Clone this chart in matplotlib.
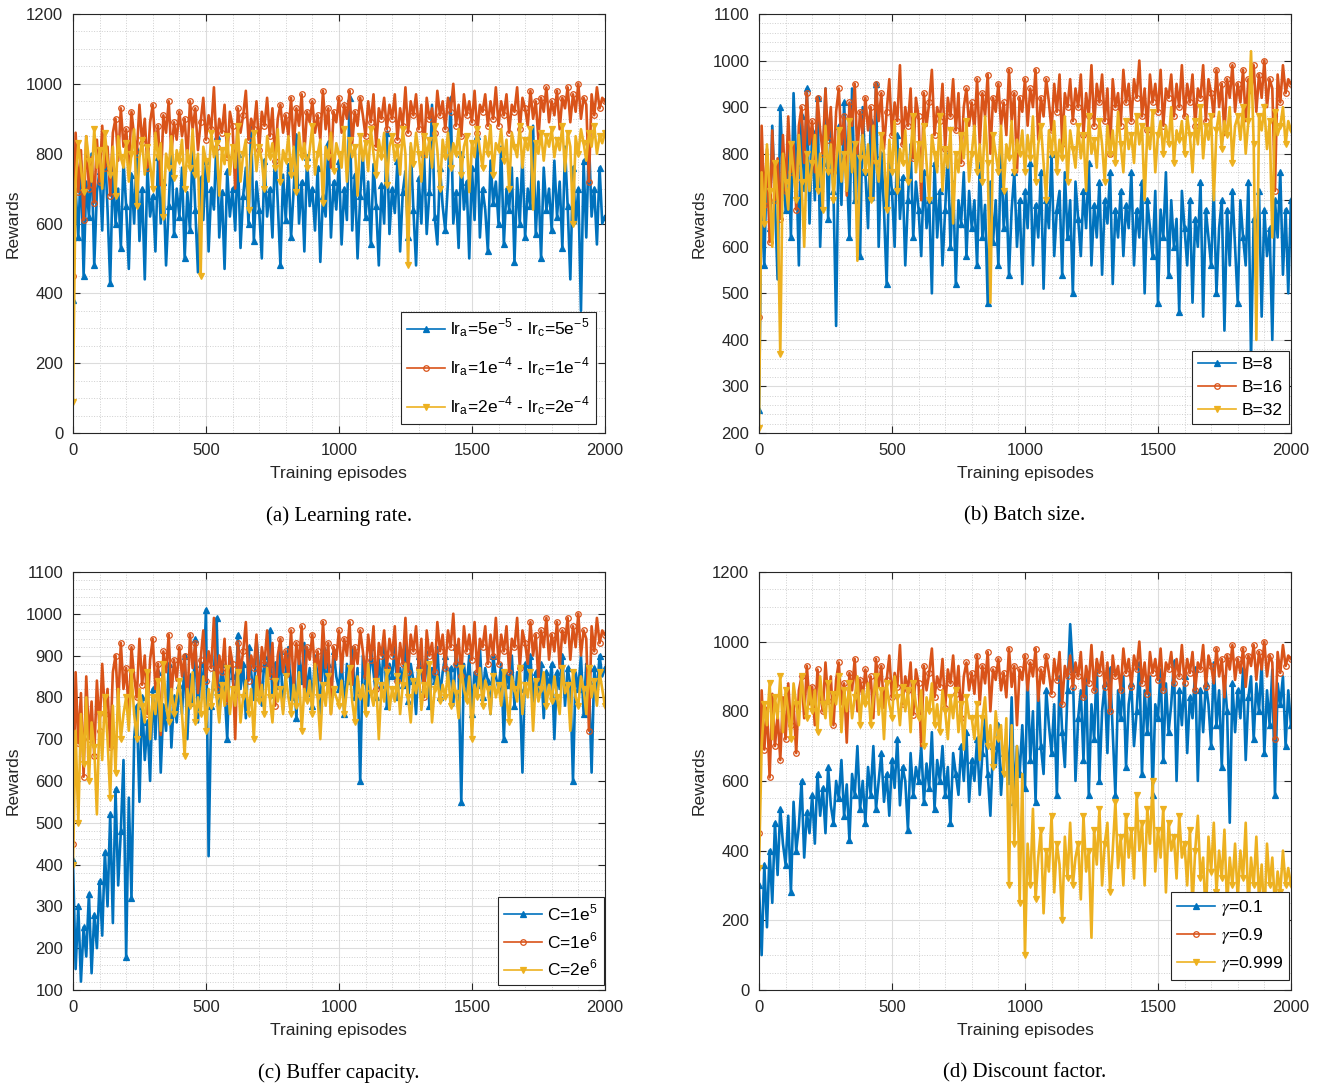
import numpy as np
import matplotlib
matplotlib.use("Agg")
import matplotlib.pyplot as plt
from matplotlib.ticker import MultipleLocator

plt.rcParams['font.family'] = ['Liberation Sans', 'DejaVu Sans']
plt.rcParams['mathtext.fontset'] = 'stix'

# rewards sampled every 10 episodes (0..2000), read off the figure
# reference run (lr=1e-4, B=16, C=1e6, gamma=0.9) - same curve in every panel
ref_rewards = [
    450, 860, 690, 810, 610, 850, 700, 790, 660, 840, 720, 880, 760, 820, 680, 860, 900, 780, 930, 820,
    870, 760, 920, 850, 800, 940, 830, 900, 760, 890, 940, 820, 880, 710, 910, 860, 950, 800, 890, 840,
    920, 850, 900, 780, 950, 870, 930, 810, 890, 960, 840, 910, 870, 990, 820, 900, 860, 940, 790, 920,
    880, 700, 930, 860, 910, 980, 840, 900, 870, 950, 810, 920, 880, 960, 850, 930, 780, 900, 940, 860,
    910, 850, 960, 820, 930, 880, 970, 800, 920, 890, 950, 860, 910, 840, 980, 870, 930, 760, 920, 890,
    960, 860, 940, 900, 980, 830, 920, 880, 960, 910, 850, 950, 890, 970, 820, 930, 900, 960, 870, 940,
    900, 970, 840, 930, 880, 990, 860, 950, 910, 970, 870, 940, 800, 960, 900, 930, 860, 980, 910, 950,
    870, 960, 920, 1000, 880, 940, 850, 970, 910, 950, 890, 980, 860, 940, 920, 970, 880, 950, 900, 990,
    880, 950, 910, 970, 860, 940, 920, 990, 870, 960, 930, 880, 980, 900, 950, 840, 960, 920, 990, 890,
    950, 910, 980, 870, 960, 930, 990, 890, 970, 920, 1000, 900, 960, 940, 720, 970, 910, 990, 930, 960,
    950]

# (a) learning rate
lr_low = [
    380, 700, 560, 780, 450, 720, 620, 800, 480, 690, 750, 580, 820, 640, 430, 760, 600, 700, 530, 780,
    650, 470, 740, 600, 810, 550, 700, 440, 760, 620, 680, 520, 790, 600, 720, 480, 650, 830, 570, 700,
    620, 760, 500, 690, 580, 820, 640, 460, 730, 610, 780, 520, 700, 640, 850, 560, 690, 470, 750, 620,
    700, 580, 800, 530, 680, 760, 600, 880, 550, 720, 640, 500, 780, 620, 700, 560, 820, 660, 480, 740,
    610, 770, 560, 700, 850, 600, 720, 520, 790, 650, 700, 580, 760, 490, 680, 620, 830, 560, 720, 640,
    780, 540, 700, 610, 960, 580, 740, 500, 680, 800, 620, 720, 540, 770, 650, 480, 710, 600, 860, 570,
    700, 630, 780, 520, 690, 750, 560, 820, 640, 480, 730, 600, 800, 570, 690, 940, 620, 540, 760, 650,
    580, 720, 960, 600, 690, 530, 800, 640, 720, 500, 760, 610, 850, 560, 700, 640, 520, 780, 660, 720,
    600, 820, 540, 700, 640, 760, 490, 730, 600, 800, 560, 700, 650, 880, 570, 720, 500, 760, 640, 700,
    580, 780, 620, 720, 530, 820, 650, 440, 760, 600, 700, 350, 780, 560, 840, 620, 700, 540, 760, 600,
    620]
lr_high = [
    90, 720, 830, 760, 690, 850, 780, 720, 870, 760, 810, 700, 860, 780, 740, 820, 680, 850, 790, 760,
    830, 720, 800, 870, 650, 790, 840, 740, 820, 770, 700, 860, 790, 830, 620, 800, 760, 850, 730, 810,
    780, 840, 700, 810, 760, 870, 740, 800, 450, 820, 780, 720, 860, 790, 830, 680, 810, 770, 850, 740,
    820, 760, 880, 720, 800, 840, 640, 790, 860, 750, 820, 780, 700, 850, 790, 830, 760, 870, 720, 810,
    780, 850, 740, 820, 690, 860, 790, 830, 760, 810, 880, 740, 800, 840, 660, 820, 790, 860, 750, 830,
    800, 760, 870, 720, 840, 790, 820, 680, 850, 780, 830, 750, 870, 800, 740, 840, 790, 860, 710, 820,
    850, 780, 820, 740, 870, 800, 480, 830, 770, 860, 800, 720, 850, 790, 840, 760, 880, 810, 700, 840,
    790, 860, 760, 830, 800, 870, 740, 820, 850, 690, 830, 790, 870, 810, 760, 850, 800, 880, 740, 830,
    810, 870, 780, 840, 700, 860, 820, 790, 880, 760, 840, 810, 870, 640, 830, 800, 860, 780, 850, 820,
    870, 790, 840, 810, 880, 750, 860, 820, 600, 850, 800, 870, 830, 780, 860, 820, 880, 800, 850, 830,
    860]

# (b) batch size
batch_8 = [
    250, 720, 560, 800, 640, 860, 700, 530, 900, 760, 680, 840, 620, 930, 780, 560, 880, 720, 940, 650,
    850, 700, 920, 600, 780, 940, 660, 880, 720, 430, 860, 690, 910, 770, 620, 940, 700, 850, 580, 900,
    760, 640, 870, 700, 950, 600, 800, 680, 520, 780, 720, 600, 840, 660, 750, 560, 700, 820, 620, 740,
    680, 580, 760, 640, 700, 500, 780, 620, 720, 560, 680, 800, 600, 740, 520, 700, 650, 760, 580, 720,
    640, 700, 560, 780, 620, 690, 480, 740, 610, 700, 560, 820, 640, 720, 540, 680, 760, 600, 700, 520,
    720, 640, 780, 560, 690, 620, 760, 510, 700, 640, 800, 580, 680, 720, 540, 760, 620, 700, 500, 740,
    660, 580, 720, 640, 780, 560, 690, 620, 740, 540, 700, 650, 760, 520, 680, 620, 720, 580, 690, 640,
    760, 560, 680, 620, 740, 500, 700, 640, 580, 720, 480, 680, 620, 760, 540, 700, 600, 660, 460, 720,
    640, 560, 700, 480, 660, 600, 740, 450, 680, 620, 560, 720, 500, 640, 700, 420, 680, 560, 720, 600,
    480, 700, 620, 560, 740, 360, 660, 600, 720, 450, 680, 580, 640, 400, 700, 620, 760, 540, 680, 500,
    700]
batch_32 = [
    210, 760, 650, 820, 720, 600, 780, 700, 370, 800, 740, 680, 820, 760, 700, 840, 740, 600, 800, 720,
    780, 840, 720, 800, 680, 860, 760, 820, 700, 780, 850, 740, 800, 720, 870, 760, 820, 570, 790, 840,
    760, 820, 700, 860, 780, 740, 840, 800, 680, 830, 760, 870, 720, 810, 780, 850, 740, 800, 880, 760,
    820, 740, 860, 780, 700, 840, 800, 760, 880, 720, 810, 770, 850, 650, 800, 760, 840, 790, 870, 740,
    800, 860, 760, 820, 740, 880, 780, 480, 840, 800, 760, 860, 720, 820, 790, 870, 760, 830, 800, 850,
    760, 840, 790, 880, 740, 820, 860, 780, 700, 850, 800, 870, 760, 830, 790, 880, 740, 850, 810, 770,
    860, 790, 840, 720, 880, 800, 830, 770, 870, 820, 740, 860, 800, 850, 780, 890, 820, 760, 870, 810,
    840, 780, 880, 820, 860, 700, 850, 810, 890, 760, 840, 870, 800, 860, 820, 900, 780, 850, 830, 870,
    800, 880, 840, 760, 870, 820, 900, 790, 860, 830, 880, 700, 850, 890, 810, 870, 840, 900, 780, 860,
    880, 830, 900, 800, 870, 1020, 820, 400, 880, 850, 900, 810, 870, 620, 890, 840, 860, 900, 820, 870,
    850]

# (c) buffer capacity
cap_1e5 = [
    410, 150, 300, 120, 250, 180, 330, 140, 280, 200, 360, 230, 430, 300, 520, 260, 580, 350, 480, 650,
    180, 560, 320, 700, 780, 550, 800, 650, 740, 600, 820, 700, 860, 620, 780, 720, 880, 680, 800, 740,
    830, 760, 900, 700, 850, 780, 940, 740, 880, 800, 1010, 420, 780, 860, 990, 750, 880, 820, 700, 900,
    850, 780, 950, 820, 880, 750, 920, 860, 800, 940, 870, 780, 900, 840, 960, 800, 880, 820, 910, 770,
    860, 920, 800, 880, 750, 900, 840, 930, 810, 870, 780, 900, 850, 760, 920, 830, 880, 800, 910, 850,
    820, 900, 760, 880, 840, 920, 800, 870, 600, 900, 840, 780, 920, 860, 800, 890, 830, 940, 780, 880,
    850, 920, 800, 870, 830, 950, 790, 880, 840, 760, 900, 860, 820, 910, 780, 870, 840, 920, 800, 860,
    900, 830, 870, 780, 920, 850, 550, 880, 820, 900, 760, 860, 830, 920, 800, 870, 840, 760, 900, 850,
    820, 880, 700, 860, 830, 900, 780, 860, 820, 620, 880, 840, 900, 790, 860, 810, 880, 750, 860, 820,
    880, 700, 860, 820, 900, 780, 870, 830, 600, 860, 820, 900, 760, 880, 840, 620, 870, 810, 900, 850,
    870]
cap_2e6 = [
    400, 720, 500, 760, 640, 800, 600, 740, 680, 520, 760, 650, 800, 700, 560, 780, 620, 820, 700, 760,
    800, 720, 860, 760, 700, 820, 780, 740, 860, 700, 800, 760, 840, 720, 880, 780, 740, 820, 760, 800,
    840, 760, 660, 820, 780, 860, 740, 800, 760, 850, 720, 820, 780, 860, 800, 740, 830, 780, 870, 760,
    820, 780, 860, 740, 800, 840, 760, 820, 700, 850, 790, 830, 760, 870, 800, 740, 840, 790, 820, 760,
    850, 800, 760, 830, 780, 860, 720, 820, 790, 840, 760, 880, 800, 700, 830, 780, 850, 760, 820, 800,
    780, 840, 760, 820, 870, 790, 740, 850, 800, 830, 760, 880, 810, 780, 840, 700, 830, 790, 860, 770,
    820, 790, 850, 760, 830, 880, 800, 740, 840, 810, 860, 770, 830, 800, 880, 740, 820, 850, 790, 830,
    800, 860, 780, 840, 810, 750, 870, 820, 790, 850, 700, 830, 800, 870, 780, 840, 820, 760, 850, 800,
    830, 780, 860, 800, 740, 850, 820, 790, 870, 760, 830, 800, 860, 720, 840, 790, 820, 860, 780, 830,
    790, 850, 800, 760, 870, 810, 830, 720, 860, 800, 780, 850, 820, 760, 870, 800, 840, 780, 860, 820,
    780]

# (d) discount factor
gamma_01 = [
    300, 100, 360, 180, 400, 250, 480, 330, 520, 420, 360, 500, 280, 540, 400, 470, 600, 380, 510, 450,
    560, 420, 620, 500, 580, 450, 640, 530, 480, 600, 550, 660, 500, 590, 430, 620, 560, 700, 520, 600,
    480, 640, 560, 700, 520, 600, 680, 540, 620, 500, 660, 580, 720, 530, 640, 600, 460, 680, 560, 640,
    600, 700, 540, 650, 580, 740, 520, 660, 600, 700, 560, 640, 480, 680, 620, 560, 700, 600, 740, 540,
    660, 600, 720, 560, 680, 780, 620, 500, 700, 640, 760, 560, 680, 720, 600, 840, 540, 700, 620, 760,
    580, 900, 660, 800, 540, 880, 700, 620, 860, 760, 680, 820, 560, 900, 740, 640, 860, 1050, 920, 600,
    780, 860, 660, 900, 560, 820, 720, 940, 600, 800, 880, 680, 920, 740, 560, 860, 780, 900, 640, 820,
    880, 700, 800, 940, 620, 860, 740, 900, 560, 820, 780, 920, 660, 880, 740, 820, 940, 600, 860, 760,
    900, 680, 840, 780, 920, 600, 860, 740, 880, 820, 700, 940, 760, 860, 640, 900, 800, 480, 880, 740,
    860, 780, 920, 660, 840, 900, 720, 880, 800, 940, 680, 860, 760, 920, 560, 880, 820, 900, 700, 860,
    760]
gamma_0999 = [
    350, 700, 820, 760, 880, 720, 840, 780, 900, 740, 860, 800, 720, 880, 820, 760, 900, 830, 780, 870,
    800, 860, 740, 900, 820, 780, 880, 760, 850, 820, 900, 740, 860, 800, 880, 780, 840, 900, 760, 860,
    820, 880, 760, 840, 900, 790, 860, 720, 880, 820, 780, 900, 840, 760, 870, 800, 860, 740, 880, 820,
    780, 860, 700, 840, 800, 880, 760, 820, 740, 860, 800, 720, 840, 780, 860, 740, 820, 690, 840, 780,
    780, 720, 820, 660, 780, 840, 700, 760, 640, 800, 720, 760, 620, 780, 300, 760, 420, 700, 250, 620,
    100, 420, 300, 520, 260, 380, 460, 220, 400, 340, 500, 280, 420, 360, 200, 440, 320, 480, 300, 380,
    420, 260, 500, 340, 400, 150, 460, 360, 520, 300, 420, 480, 280, 400, 540, 350, 440, 300, 500, 380,
    460, 320, 560, 400, 480, 300, 520, 420, 600, 340, 460, 380, 520, 280, 480, 400, 440, 320, 500, 380,
    420, 300, 460, 240, 400, 500, 320, 380, 200, 440, 340, 480, 280, 400, 320, 460, 240, 380, 300, 420,
    260, 400, 320, 480, 230, 380, 300, 440, 260, 360, 200, 420, 300, 380, 240, 340, 280, 400, 300, 350,
    300]

BLUE, ORANGE, YELLOW = '#0072BD', '#D95319', '#EDB120'

panels = [
    dict(pos=[0.0554, 0.6009, 0.4039, 0.3862], ylim=(0, 1200), ystep=200, yminor=50,
         blue=lr_low, yellow=lr_high, caption='(a) Learning rate.',
         labels=[r'lr$_\mathregular{a}$=5e$^\mathregular{-5}$ - lr$_\mathregular{c}$=5e$^\mathregular{-5}$',
                 r'lr$_\mathregular{a}$=1e$^\mathregular{-4}$ - lr$_\mathregular{c}$=1e$^\mathregular{-4}$',
                 r'lr$_\mathregular{a}$=2e$^\mathregular{-4}$ - lr$_\mathregular{c}$=2e$^\mathregular{-4}$'],
         anchor=(0.983, 0.021), cap_y=1 - 516 / 1085, lspace=0.95),
    dict(pos=[0.5763, 0.6009, 0.4039, 0.3862], ylim=(200, 1100), ystep=100, yminor=20,
         blue=batch_8, yellow=batch_32, caption='(b) Batch size.',
         labels=['B=8', 'B=16', 'B=32'], anchor=(0.996, 0.021), cap_y=1 - 516 / 1085,
         lspace=0.45),
    dict(pos=[0.0554, 0.0876, 0.4039, 0.3853], ylim=(100, 1100), ystep=100, yminor=20,
         blue=cap_1e5, yellow=cap_2e6, caption='(c) Buffer capacity.',
         labels=[r'C=1e$^\mathregular{5}$', r'C=1e$^\mathregular{6}$', r'C=2e$^\mathregular{6}$'],
         anchor=(0.998, 0.012), cap_y=1 - 1073 / 1085, lspace=0.45),
    dict(pos=[0.5763, 0.0876, 0.4039, 0.3853], ylim=(0, 1200), ystep=200, yminor=50,
         blue=gamma_01, yellow=gamma_0999, caption='(d) Discount factor.',
         labels=[r'$\gamma$=0.1', r'$\gamma$=0.9', r'$\gamma$=0.999'],
         anchor=(0.996, 0.024), cap_y=1 - 1073 / 1085, lspace=0.45),
]

fig = plt.figure(figsize=(13.17, 10.85), dpi=100)

for p in panels:
    ax = fig.add_axes(p['pos'])
    series = [(p['blue'], BLUE, '^', BLUE),
              (ref_rewards, ORANGE, 'o', 'none'),
              (p['yellow'], YELLOW, 'v', YELLOW)]
    for vals, col, mk, mfc in series:
        ep = np.linspace(0, 2000, len(vals))
        ax.plot(ep, vals, color=col, lw=1.9, marker=mk, markersize=4,
                markerfacecolor=mfc, markeredgewidth=0.9, markevery=2)

    ax.set_xlim(0, 2000)
    ax.set_ylim(*p['ylim'])
    ax.xaxis.set_major_locator(MultipleLocator(500))
    ax.xaxis.set_minor_locator(MultipleLocator(100))
    ax.yaxis.set_major_locator(MultipleLocator(p['ystep']))
    ax.yaxis.set_minor_locator(MultipleLocator(p['yminor']))
    ax.grid(True, which='major', color='#dcdcdc', lw=0.8, ls='-')
    ax.grid(True, which='minor', color='#cfcfcf', lw=0.7, ls=':')
    ax.set_axisbelow(True)
    ax.tick_params(which='major', direction='in', length=5, width=0.8, top=True, right=True,
                   labelsize=12, colors='#262626', pad=7)
    ax.tick_params(which='minor', length=0, top=True, right=True)
    for s in ax.spines.values():
        s.set_color('#262626')
        s.set_linewidth(0.8)
    ax.set_xlabel('Training episodes', fontsize=12.5, color='#262626', labelpad=6)
    ax.set_ylabel('Rewards', fontsize=12.5, color='#262626')

    leg = ax.legend(p['labels'], loc='lower right', bbox_to_anchor=p['anchor'],
                    borderaxespad=0, fontsize=12.5, fancybox=False, framealpha=1,
                    edgecolor='#262626', handlelength=2.2, handletextpad=0.3,
                    borderpad=0.35, labelspacing=p['lspace'])
    leg.get_frame().set_linewidth(0.8)
    for ln in leg.get_lines():
        ln.set_linewidth(1.2)

    x0, _, w, _ = p['pos']
    fig.text(x0 + w / 2, p['cap_y'], p['caption'], ha='center', va='center',
             fontsize=15, family=['Liberation Serif', 'DejaVu Serif'])

fig.savefig('out.png', dpi=100)
